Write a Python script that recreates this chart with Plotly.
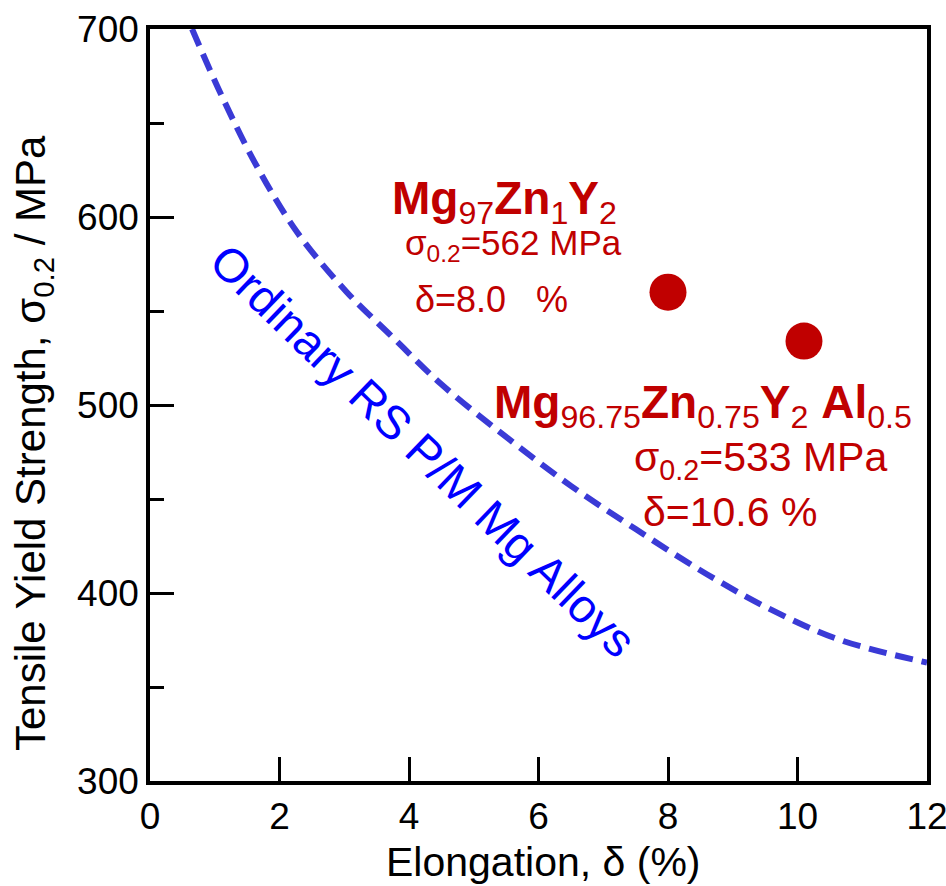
import plotly.graph_objects as go

# Data
curve_x = [0.65, 1.1, 1.65, 2.27, 3.04, 3.75, 4.5, 5.5, 6.5, 7.5, 8.6, 9.6, 10.66, 12.0]
curve_y = [700, 665, 627, 592, 560, 536, 511, 483, 457, 434, 410, 391, 375, 363]

alloy_names = ["Mg97Zn1Y2", "Mg96.75Zn0.75Y2Al0.5"]
alloy_x = [8.0, 10.1]
alloy_y = [560, 534]

x_ticks = [0, 2, 4, 6, 8, 10, 12]
y_ticks = [300, 400, 500, 600, 700]

FONT = "Arial, Liberation Sans, sans-serif"
RED = "#c00000"

fig = go.Figure()
fig.add_trace(go.Scatter(
    x=curve_x, y=curve_y, mode="lines", line_shape="spline",
    line=dict(color="#3a3ad6", width=6, dash="18px,9px"),
    showlegend=False, hoverinfo="skip"))
fig.add_trace(go.Scatter(
    x=alloy_x, y=alloy_y, mode="markers", text=alloy_names,
    marker=dict(color=RED, size=37, line=dict(width=0)),
    showlegend=False))

annotations = [
    dict(x=3.71, y=608, xanchor="left", yanchor="middle",
         text="<b>Mg</b><sub>97</sub><b>Zn</b><sub>1</sub><b>Y</b><sub>2</sub>",
         font=dict(size=46, color=RED, family=FONT)),
    dict(x=3.91, y=585, xanchor="left", yanchor="middle",
         text="σ<sub>0.2</sub>=562 MPa", font=dict(size=35, color=RED, family=FONT)),
    dict(x=4.06, y=556, xanchor="left", yanchor="middle",
         text="δ=8.0&nbsp;&nbsp;&nbsp;%", font=dict(size=36, color=RED, family=FONT)),
    dict(x=5.28, y=500, xanchor="left", yanchor="middle",
         text="<b>Mg</b><sub>96.75</sub><b>Zn</b><sub>0.75</sub><b>Y</b><sub>2</sub> <b>Al</b><sub>0.5</sub>",
         font=dict(size=46, color=RED, family=FONT)),
    dict(x=7.44, y=471, xanchor="left", yanchor="middle",
         text="σ<sub>0.2</sub>=533 MPa", font=dict(size=41, color=RED, family=FONT)),
    dict(x=7.58, y=443, xanchor="left", yanchor="middle",
         text="δ=10.6 %", font=dict(size=41, color=RED, family=FONT)),
    dict(x=4.22, y=476, xanchor="center", yanchor="middle", textangle=44,
         text="Ordinary RS P/M Mg Alloys", font=dict(size=47, color="#0000ff", family=FONT)),
    dict(xref="paper", yref="paper", x=-0.150, y=0.45, xanchor="center", yanchor="middle",
         textangle=-90, text="Tensile Yield Strength, σ<sub>0.2</sub> / MPa",
         font=dict(size=42, color="black", family=FONT)),
    dict(xref="paper", yref="paper", x=0.507, y=-0.108, xanchor="center", yanchor="middle",
         text="Elongation, δ (%)", font=dict(size=41, color="black", family=FONT)),
]
for a in annotations:
    a.setdefault("xref", "x")
    a.setdefault("yref", "y")
    a["showarrow"] = False

fig.update_layout(
    width=946, height=886,
    margin=dict(l=150, r=19, t=29, b=105),
    paper_bgcolor="white", plot_bgcolor="white",
    font=dict(family=FONT, color="black"),
    annotations=annotations,
    xaxis=dict(range=[0, 12], tickvals=x_ticks, ticks="inside", ticklen=24, tickwidth=2.5,
               tickcolor="black", showline=True, linewidth=3.5, linecolor="black", mirror=True,
               showgrid=False, zeroline=False, tickfont=dict(size=37), automargin=False,
               ticklabeloverflow="allow"),
    yaxis=dict(range=[300, 700], tickvals=y_ticks, ticks="inside", ticklen=24, tickwidth=2.5,
               tickcolor="black", showline=True, linewidth=3.5, linecolor="black", mirror=True,
               showgrid=False, zeroline=False, tickfont=dict(size=37), automargin=False,
               ticklabeloverflow="allow",
               minor=dict(dtick=50, ticks="inside", ticklen=14, tickwidth=2.5, tickcolor="black")),
)

fig.write_html("out.html")
